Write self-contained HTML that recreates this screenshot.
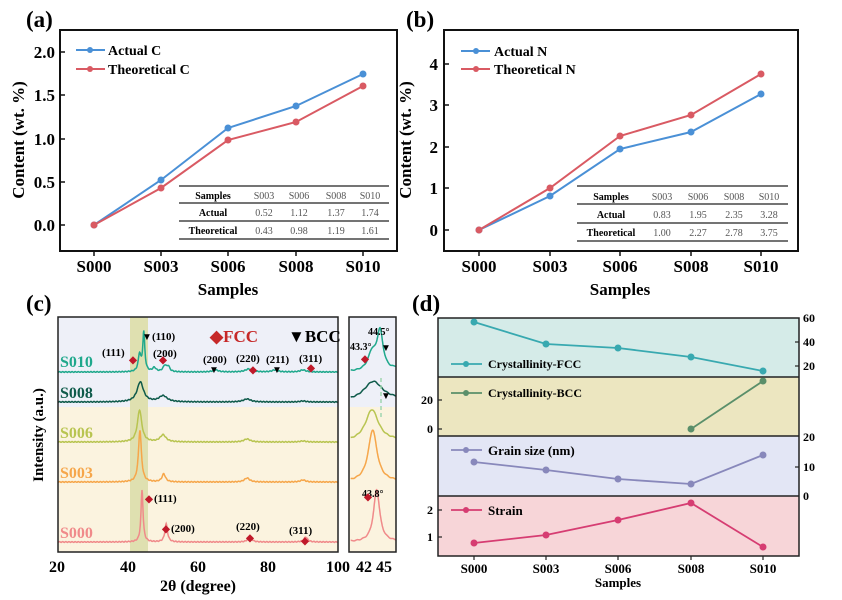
<!DOCTYPE html>
<html><head><meta charset="utf-8"><style>
html,body{margin:0;padding:0;background:#fff;}
svg{display:block;font-family:"Liberation Serif",serif;font-weight:bold;}
</style></head><body>
<svg id="s" width="842" height="600" viewBox="0 0 842 600" xmlns="http://www.w3.org/2000/svg">
<rect width="842" height="600" fill="#fff"/>
<!-- Panel a -->
<text x="26" y="27" font-size="23">(a)</text>
<rect x="60" y="30" width="337" height="221" fill="none" stroke="#111" stroke-width="2"/>
<g font-size="17" text-anchor="end">
<text x="55" y="58">2.0</text><text x="55" y="101">1.5</text><text x="55" y="145">1.0</text><text x="55" y="188">0.5</text><text x="55" y="231">0.0</text>
</g>
<g stroke="#111" stroke-width="1.5"><line x1="60" y1="52" x2="65" y2="52"/><line x1="60" y1="95" x2="65" y2="95"/><line x1="60" y1="139" x2="65" y2="139"/><line x1="60" y1="182" x2="65" y2="182"/><line x1="60" y1="225" x2="65" y2="225"/>
<line x1="94" y1="251" x2="94" y2="256"/><line x1="161" y1="251" x2="161" y2="256"/><line x1="228" y1="251" x2="228" y2="256"/><line x1="296" y1="251" x2="296" y2="256"/><line x1="363" y1="251" x2="363" y2="256"/></g>
<g font-size="17" text-anchor="middle"><text x="94" y="272">S000</text><text x="161" y="272">S003</text><text x="228" y="272">S006</text><text x="296" y="272">S008</text><text x="363" y="272">S010</text><text x="228" y="295">Samples</text></g>
<text transform="translate(24,140) rotate(-90)" font-size="17" text-anchor="middle">Content (wt. %)</text>
<polyline points="94,225 161,180 228,128 296,106 363,74" fill="none" stroke="#4a90d6" stroke-width="2"/>
<polyline points="94,225 161,188 228,140 296,122 363,86" fill="none" stroke="#d95a63" stroke-width="2"/>
<g fill="#4a90d6"><circle cx="94" cy="225" r="3.5"/><circle cx="161" cy="180" r="3.5"/><circle cx="228" cy="128" r="3.5"/><circle cx="296" cy="106" r="3.5"/><circle cx="363" cy="74" r="3.5"/></g>
<g fill="#d95a63"><circle cx="94" cy="225" r="3.5"/><circle cx="161" cy="188" r="3.5"/><circle cx="228" cy="140" r="3.5"/><circle cx="296" cy="122" r="3.5"/><circle cx="363" cy="86" r="3.5"/></g>
<line x1="76" y1="50" x2="105" y2="50" stroke="#4a90d6" stroke-width="2"/><circle cx="90" cy="50" r="3" fill="#4a90d6"/>
<line x1="76" y1="69" x2="105" y2="69" stroke="#d95a63" stroke-width="2"/><circle cx="90" cy="69" r="3" fill="#d95a63"/>
<text x="108" y="55" font-size="14">Actual C</text><text x="108" y="74" font-size="14">Theoretical C</text>
<g stroke="#222" stroke-width="1.2"><line x1="179" y1="186" x2="389" y2="186"/><line x1="179" y1="203" x2="389" y2="203"/><line x1="179" y1="221" x2="389" y2="221"/><line x1="179" y1="239" x2="389" y2="239"/></g>
<g font-size="10" text-anchor="middle"><text x="213" y="199">Samples</text><text x="213" y="216">Actual</text><text x="213" y="234">Theoretical</text></g>
<g font-size="10" text-anchor="middle" font-weight="normal" fill="#555"><text x="264" y="199">S003</text><text x="299" y="199">S006</text><text x="336" y="199">S008</text><text x="370" y="199">S010</text>
<text x="264" y="216">0.52</text><text x="299" y="216">1.12</text><text x="336" y="216">1.37</text><text x="370" y="216">1.74</text>
<text x="264" y="234">0.43</text><text x="299" y="234">0.98</text><text x="336" y="234">1.19</text><text x="370" y="234">1.61</text></g>
<!-- Panel b -->
<text x="406" y="27" font-size="23">(b)</text>
<rect x="444" y="30" width="354" height="221" fill="none" stroke="#111" stroke-width="2"/>
<g font-size="17" text-anchor="end"><text x="438" y="70">4</text><text x="438" y="111">3</text><text x="438" y="153">2</text><text x="438" y="194">1</text><text x="438" y="236">0</text></g>
<g stroke="#111" stroke-width="1.5"><line x1="444" y1="64" x2="449" y2="64"/><line x1="444" y1="105" x2="449" y2="105"/><line x1="444" y1="147" x2="449" y2="147"/><line x1="444" y1="188" x2="449" y2="188"/><line x1="444" y1="230" x2="449" y2="230"/>
<line x1="479" y1="251" x2="479" y2="256"/><line x1="550" y1="251" x2="550" y2="256"/><line x1="620" y1="251" x2="620" y2="256"/><line x1="691" y1="251" x2="691" y2="256"/><line x1="761" y1="251" x2="761" y2="256"/></g>
<g font-size="17" text-anchor="middle"><text x="479" y="272">S000</text><text x="550" y="272">S003</text><text x="620" y="272">S006</text><text x="691" y="272">S008</text><text x="761" y="272">S010</text><text x="620" y="295">Samples</text></g>
<text transform="translate(411,140) rotate(-90)" font-size="17" text-anchor="middle">Content (wt. %)</text>
<polyline points="479,230 550,196 620,149 691,132 761,94" fill="none" stroke="#4a90d6" stroke-width="2"/>
<polyline points="479,230 550,188 620,136 691,115 761,74" fill="none" stroke="#d95a63" stroke-width="2"/>
<g fill="#4a90d6"><circle cx="479" cy="230" r="3.5"/><circle cx="550" cy="196" r="3.5"/><circle cx="620" cy="149" r="3.5"/><circle cx="691" cy="132" r="3.5"/><circle cx="761" cy="94" r="3.5"/></g>
<g fill="#d95a63"><circle cx="479" cy="230" r="3.5"/><circle cx="550" cy="188" r="3.5"/><circle cx="620" cy="136" r="3.5"/><circle cx="691" cy="115" r="3.5"/><circle cx="761" cy="74" r="3.5"/></g>
<line x1="461" y1="51" x2="490" y2="51" stroke="#4a90d6" stroke-width="2"/><circle cx="476" cy="51" r="3" fill="#4a90d6"/>
<line x1="461" y1="69" x2="490" y2="69" stroke="#d95a63" stroke-width="2"/><circle cx="476" cy="69" r="3" fill="#d95a63"/>
<text x="494" y="56" font-size="14">Actual N</text><text x="494" y="74" font-size="14">Theoretical N</text>
<g stroke="#222" stroke-width="1.2"><line x1="577" y1="186" x2="788" y2="186"/><line x1="577" y1="204" x2="788" y2="204"/><line x1="577" y1="223" x2="788" y2="223"/><line x1="577" y1="241" x2="788" y2="241"/></g>
<g font-size="10" text-anchor="middle"><text x="611" y="200">Samples</text><text x="611" y="218">Actual</text><text x="611" y="236">Theoretical</text></g>
<g font-size="10" text-anchor="middle" font-weight="normal" fill="#555"><text x="662" y="200">S003</text><text x="698" y="200">S006</text><text x="734" y="200">S008</text><text x="769" y="200">S010</text>
<text x="662" y="218">0.83</text><text x="698" y="218">1.95</text><text x="734" y="218">2.35</text><text x="769" y="218">3.28</text>
<text x="662" y="236">1.00</text><text x="698" y="236">2.27</text><text x="734" y="236">2.78</text><text x="769" y="236">3.75</text></g>
<!-- Panel c -->
<text x="26" y="311" font-size="23">(c)</text>
<rect x="58" y="317" width="280" height="90" fill="#eef0f8"/><rect x="58" y="407" width="280" height="145" fill="#fbf3df"/>
<rect x="349" y="317" width="47" height="90" fill="#eef0f8"/><rect x="349" y="407" width="47" height="145" fill="#fbf3df"/>
<rect x="130" y="317" width="18" height="235" fill="#dfe0b0"/>
<g id="curves"></g>
<line x1="381" y1="378" x2="381" y2="420" stroke="#9fd6b0" stroke-width="1.5" stroke-dasharray="4,3"/>
<rect x="58" y="317" width="280" height="235" fill="none" stroke="#222" stroke-width="1.5"/>
<rect x="349" y="317" width="47" height="235" fill="none" stroke="#222" stroke-width="1.5"/>
<g font-size="16" text-anchor="middle"><text x="57" y="572">20</text><text x="128" y="572">40</text><text x="198" y="572">60</text><text x="268" y="572">80</text><text x="338" y="572">100</text><text x="364" y="572">42</text><text x="384" y="572">45</text><text x="198" y="591">2θ (degree)</text></g>
<text transform="translate(43,435) rotate(-90)" font-size="15" text-anchor="middle">Intensity (a.u.)</text>
<g font-size="16"><text x="60" y="367" fill="#1fa88c">S010</text><text x="60" y="398" fill="#0e5a4a">S008</text><text x="60" y="438" fill="#b8c450">S006</text><text x="60" y="478" fill="#f6a64a">S003</text><text x="60" y="538" fill="#f08a8a">S000</text></g>
<g font-size="11"><text x="102" y="356">(111)</text><text x="152" y="340">(110)</text><text x="153" y="357">(200)</text><text x="203" y="363">(200)</text><text x="236" y="362">(220)</text><text x="266" y="363">(211)</text><text x="299" y="362">(311)</text>
<text x="154" y="502">(111)</text><text x="171" y="532">(200)</text><text x="236" y="530">(220)</text><text x="289" y="534">(311)</text>
<text x="350" y="350" font-size="10">43.3°</text><text x="368" y="335" font-size="10">44.5°</text><text x="362" y="497" font-size="10">43.8°</text></g>
<text x="210" y="342" font-size="17" fill="#c62828">◆FCC</text><text x="288" y="342" font-size="17">▼BCC</text>
<g fill="#c0192a" font-size="10" text-anchor="middle"><text x="133" y="363">◆</text><text x="163" y="363">◆</text><text x="253" y="373">◆</text><text x="311" y="371">◆</text><text x="149" y="502">◆</text><text x="166" y="532">◆</text><text x="250" y="541">◆</text><text x="305" y="544">◆</text><text x="365" y="362">◆</text><text x="368" y="500">◆</text></g>
<g font-size="10" text-anchor="middle"><text x="147" y="340">▼</text><text x="214" y="373">▼</text><text x="277" y="373">▼</text><text x="386" y="351">▼</text><text x="386" y="399">▼</text></g>
<!-- Panel d -->
<text x="412" y="311" font-size="23">(d)</text>
<rect x="438" y="318" width="361" height="59" fill="#d5ebe8"/><rect x="438" y="377" width="361" height="59" fill="#ece6c0"/>
<rect x="438" y="436" width="361" height="60" fill="#e3e6f5"/><rect x="438" y="496" width="361" height="60" fill="#f7d5d8"/>
<g stroke="#222" stroke-width="1.5" fill="none"><rect x="438" y="318" width="361" height="238"/><line x1="438" y1="377" x2="799" y2="377"/><line x1="438" y1="436" x2="799" y2="436"/><line x1="438" y1="496" x2="799" y2="496"/></g>
<polyline points="474,322 546,344 618,348 691,357 763,371" fill="none" stroke="#38a9b0" stroke-width="1.8"/>
<g fill="#38a9b0"><circle cx="474" cy="322" r="3.5"/><circle cx="546" cy="344" r="3.5"/><circle cx="618" cy="348" r="3.5"/><circle cx="691" cy="357" r="3.5"/><circle cx="763" cy="371" r="3.5"/></g>
<polyline points="691,429 763,381" fill="none" stroke="#5a8f6a" stroke-width="1.8"/>
<g fill="#5a8f6a"><circle cx="691" cy="429" r="3.5"/><circle cx="763" cy="381" r="3.5"/></g>
<polyline points="474,462 546,470 618,479 691,484 763,455" fill="none" stroke="#8888bb" stroke-width="1.8"/>
<g fill="#8888bb"><circle cx="474" cy="462" r="3.5"/><circle cx="546" cy="470" r="3.5"/><circle cx="618" cy="479" r="3.5"/><circle cx="691" cy="484" r="3.5"/><circle cx="763" cy="455" r="3.5"/></g>
<polyline points="474,543 546,535 618,520 691,503 763,547" fill="none" stroke="#d63d72" stroke-width="1.8"/>
<g fill="#d63d72"><circle cx="474" cy="543" r="3.5"/><circle cx="546" cy="535" r="3.5"/><circle cx="618" cy="520" r="3.5"/><circle cx="691" cy="503" r="3.5"/><circle cx="763" cy="547" r="3.5"/></g>
<g stroke-width="1.8"><line x1="451" y1="364" x2="482" y2="364" stroke="#38a9b0"/><line x1="451" y1="393" x2="482" y2="393" stroke="#5a8f6a"/><line x1="451" y1="450" x2="482" y2="450" stroke="#8888bb"/><line x1="451" y1="510" x2="482" y2="510" stroke="#d63d72"/></g>
<g><circle cx="466" cy="364" r="3" fill="#38a9b0"/><circle cx="466" cy="393" r="3" fill="#5a8f6a"/><circle cx="466" cy="450" r="3" fill="#8888bb"/><circle cx="466" cy="510" r="3" fill="#d63d72"/></g>
<g font-size="12"><text x="488" y="368">Crystallinity-FCC</text><text x="488" y="397">Crystallinity-BCC</text><text x="488" y="455" font-size="13">Grain size (nm)</text><text x="488" y="515" font-size="13">Strain</text></g>
<g font-size="12"><text x="803" y="322">60</text><text x="803" y="346">40</text><text x="803" y="370">20</text><text x="803" y="441">20</text><text x="803" y="471">10</text><text x="803" y="500">0</text></g>
<g font-size="12" text-anchor="end"><text x="433" y="404">20</text><text x="433" y="433">0</text><text x="433" y="514">2</text><text x="433" y="541">1</text></g>
<g stroke="#222" stroke-width="1.2"><line x1="799" y1="342" x2="795" y2="342"/><line x1="799" y1="366" x2="795" y2="366"/><line x1="799" y1="467" x2="795" y2="467"/><line x1="438" y1="400" x2="442" y2="400"/><line x1="438" y1="429" x2="442" y2="429"/><line x1="438" y1="510" x2="442" y2="510"/><line x1="438" y1="537" x2="442" y2="537"/>
<line x1="474" y1="556" x2="474" y2="560"/><line x1="546" y1="556" x2="546" y2="560"/><line x1="618" y1="556" x2="618" y2="560"/><line x1="691" y1="556" x2="691" y2="560"/><line x1="763" y1="556" x2="763" y2="560"/></g>
<g font-size="13" text-anchor="middle"><text x="474" y="573">S000</text><text x="546" y="573">S003</text><text x="618" y="573">S006</text><text x="691" y="573">S008</text><text x="763" y="573">S010</text><text x="618" y="587">Samples</text></g>
</svg>
<script>
var C=[
 {b:372,c:"#1fa88c",p:[[43.3,17,.45],[44.5,39,.35],[47.5,4,.6],[50.5,6,.6],[51.5,5,.5],[65,2,1],[74.5,3,1.2],[82,2,1],[90,2,1]]},
 {b:402,c:"#0e5a4a",p:[[43.5,20,1.1],[50,6,1.4],[74,3,1.3],[90,1,1]]},
 {b:442,c:"#b8c450",p:[[43.3,32,.75],[50,7,1],[74,3,1.1],[90,1,1]]},
 {b:482,c:"#f6a64a",p:[[43.4,52,.5],[50.2,8,.6],[74,4,.9],[90,2,.9]]},
 {b:542,c:"#f08a8a",p:[[44,52,.35],[50.9,18,.45],[74.8,6,.6],[90.8,5,.6]]}];
var g=document.getElementById("curves"),ns="http://www.w3.org/2000/svg";
function f(c,d,k){var y=c.b;for(var i=0;i<c.p.length;i++){var p=c.p[i],u=(d-p[0])/(p[2]*k);y-=p[1]/(1+u*u);}return y+Math.sin(d*7)*0.4;}
function add(s,c){var e=document.createElementNS(ns,"path");e.setAttribute("d",s);e.setAttribute("fill","none");e.setAttribute("stroke",c);e.setAttribute("stroke-width","1.5");g.appendChild(e);}
C.forEach(function(c){
 var s="";for(var d=20;d<=100;d+=0.1){s+=(s?"L":"M")+(58+(d-20)*3.5).toFixed(1)+","+f(c,d,1).toFixed(1);}
 add(s,c.c);
 s="";for(var d=40.1;d<=46.9;d+=0.05){s+=(s?"L":"M")+(350+(d-40)*6.67).toFixed(1)+","+f(c,d,1.6).toFixed(1);}
 add(s,c.c);
});
</script>
</body></html>
